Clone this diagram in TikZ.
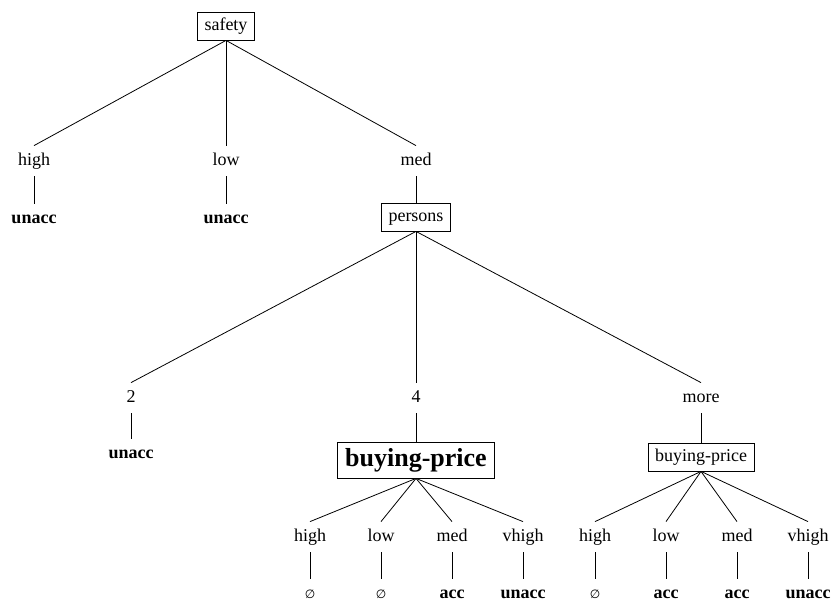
\documentclass[tikz,border=0pt]{standalone}
\usepackage{fontspec}
\setmainfont{Liberation Serif}
\newfontfamily\symfont{DejaVu Sans}
\begin{document}
\begin{tikzpicture}[x=1pt,y=-1pt,
  every node/.style={font=\fontsize{18}{20}\selectfont, inner xsep=4pt, inner ysep=7pt, text height=12pt, text depth=4pt},
  attr/.style={draw, line width=0.8pt, inner xsep=7pt, inner ysep=6pt},
  bigattr/.style={draw, line width=0.8pt, font=\bfseries\fontsize{26}{28}\selectfont, inner xsep=8pt, inner ysep=6pt, text height=18pt, text depth=6pt},
  val/.style={anchor=base},
  leaf/.style={anchor=base, font=\bfseries\fontsize{18}{20}\selectfont},
  none/.style={anchor=base, font=\symfont\fontsize{12}{14}\selectfont},
  every path/.style={line width=0.8pt}]
\useasboundingbox (0,0) rectangle (835,603);

% root split on safety
\node[attr] (safety) at (226,26) {safety};
\node[val] (s-high) at (34,165) {high};
\node[val] (s-low) at (226,165) {low};
\node[val] (s-med) at (416,165) {med};
\node[leaf] (s-high-c) at (34,223) {unacc};
\node[leaf] (s-low-c) at (226,223) {unacc};
\draw (safety.south) -- (s-high.north);
\draw (safety.south) -- (s-low.north);
\draw (safety.south) -- (s-med.north);
\draw (s-high.south) -- (s-high-c.north);
\draw (s-low.south) -- (s-low-c.north);

% persons
\node[attr] (persons) at (416,217) {persons};
\draw (s-med.south) -- (persons.north);
\node[val] (p-2) at (131,402) {2};
\node[val] (p-4) at (416,402) {4};
\node[val] (p-more) at (701,402) {more};
\node[leaf] (p-2-c) at (131,458) {unacc};
\draw (persons.south) -- (p-2.north);
\draw (persons.south) -- (p-4.north);
\draw (persons.south) -- (p-more.north);
\draw (p-2.south) -- (p-2-c.north);

% buying-price under persons = 4
\node[bigattr] (bp4) at (416,460) {buying-price};
\draw (p-4.south) -- (bp4.north);
\foreach \k/\x/\lab/\res/\st in {a/310/high/∅/none, b/381/low/∅/none, c/452/med/acc/leaf, d/523/vhigh/unacc/leaf}{
  \node[val] (bp4-\k) at (\x,541) {\lab};
  \node[\st] (bp4-\k-c) at (\x,598) {\res};
  \draw (bp4.south) -- (bp4-\k.north);
  \draw (bp4-\k.south) -- (bp4-\k-c.north);
}

% buying-price under persons = more
\node[attr] (bpm) at (701,457) {buying-price};
\draw (p-more.south) -- (bpm.north);
\foreach \k/\x/\lab/\res/\st in {a/595/high/∅/none, b/666/low/acc/leaf, c/737/med/acc/leaf, d/808/vhigh/unacc/leaf}{
  \node[val] (bpm-\k) at (\x,541) {\lab};
  \node[\st] (bpm-\k-c) at (\x,598) {\res};
  \draw (bpm.south) -- (bpm-\k.north);
  \draw (bpm-\k.south) -- (bpm-\k-c.north);
}
\end{tikzpicture}
\end{document}
